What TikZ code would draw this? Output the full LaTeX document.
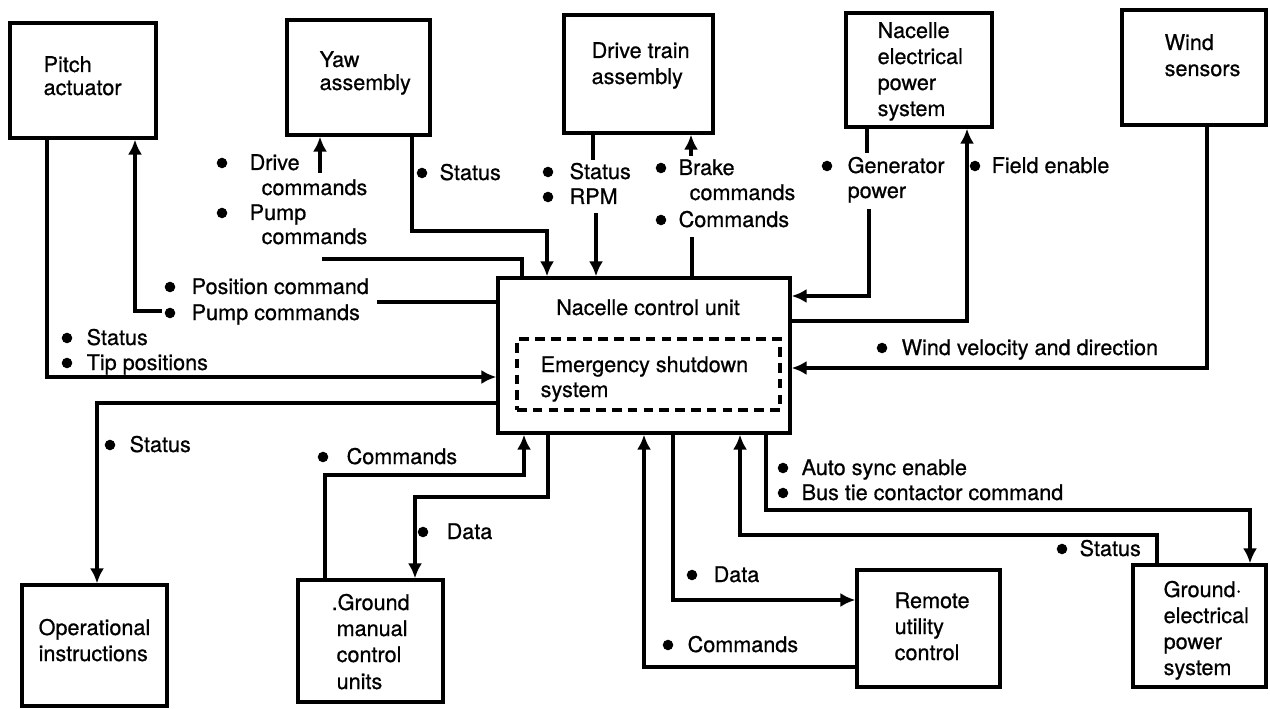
\documentclass[tikz,border=0pt]{standalone}
\usepackage{fontspec}
\setmainfont{TeX Gyre Heros}[FakeBold=0.7]
\usetikzlibrary{arrows.meta,fit}

% text line: baseline placed at the given point
\newcommand\tl[4]{\node[txt] (#1) at (#2,#3) {#4};}
% bulleted label: bullet x, text x, centre line y
\newcommand\bl[5]{\fill (#2,#4) circle (3pt);\node[txt] (#1) at (#3,{#4+7}) {#5};}

\begin{document}
\begin{tikzpicture}[x=0.02cm,y=-0.02cm,
  line width=1.9pt,
  box/.style={draw,line width=1.9pt,inner sep=0pt},
  txt/.style={anchor=base west,inner sep=0pt,font=\fontsize{12.3}{14}\selectfont},
  conn/.style={line width=1.9pt},
  arr/.style={line width=1.9pt,-{Latex[length=8.5pt,width=8pt]}}]

\path[use as bounding box] (0,0) rectangle (1270,709);

% ---- blocks ----
\node[box,fit={(10,23)(156,138)}]    (pitch)  {};
\node[box,fit={(287,20)(430,135)}]   (yaw)    {};
\node[box,fit={(564,15)(713,133)}]   (drive)  {};
\node[box,fit={(846,13)(992,127)}]   (nelec)  {};
\node[box,fit={(1122,10)(1266,125)}] (wind)   {};
\node[box,fit={(498,278)(790,433)}]  (ncu)    {};
\node[box,dashed,dash pattern=on 5.5pt off 3.5pt,fit={(517,339)(780,410)}] (esd) {};
\node[box,fit={(22,585)(167,706)}]   (oper)   {};
\node[box,fit={(298,580)(443,702)}]  (gmcu)   {};
\node[box,fit={(857,570)(1000,687)}] (remote) {};
\node[box,fit={(1133,565)(1266,687)}] (geps)  {};

% ---- block texts ----
\tl{pitchA}{42}{72}{Pitch}
\tl{pitchB}{42}{95}{actuator}
\tl{yawA}{318}{67}{Yaw}
\tl{yawB}{318}{90}{assembly}
\tl{drvA}{590}{58}{Drive train}
\tl{drvB}{590}{84}{assembly}
\tl{nelA}{876}{38}{Nacelle}
\tl{nelB}{876}{64}{electrical}
\tl{nelC}{876}{90}{power}
\tl{nelD}{876}{116}{system}
\tl{windA}{1163}{50}{Wind}
\tl{windB}{1163}{76}{sensors}
\node[txt,anchor=base] (ncuT) at (648,315) {Nacelle control unit};
\tl{esdA}{539}{372}{Emergency shutdown}
\tl{esdB}{539}{397}{system}
\tl{operA}{37}{635}{Operational}
\tl{operB}{37}{661}{instructions}
\tl{gmA}{330}{610}{.Ground}
\tl{gmB}{335}{636}{manual}
\tl{gmC}{335}{662}{control}
\tl{gmD}{335}{689}{units}
\tl{remA}{893}{608}{Remote}
\tl{remB}{893}{634}{utility}
\tl{remC}{893}{660}{control}
\tl{gepA}{1162}{597}{Ground·}
\tl{gepB}{1162}{623}{electrical}
\tl{gepC}{1162}{649}{power}
\tl{gepD}{1162}{675}{system}

% ---- signal labels ----
\bl{lDrive}{222}{248}{163}{Drive}
\tl{lDrive2}{260}{195}{commands}
\bl{lPump}{222}{248}{213}{Pump}
\tl{lPump2}{260}{244}{commands}
\bl{lYawSt}{422}{438}{173}{Status}
\bl{lDrSt}{548}{568}{172}{Status}
\bl{lRPM}{548}{568}{197}{RPM}
\bl{lBrake}{661}{677}{168}{Brake}
\tl{lBrake2}{688}{200}{commands}
\bl{lCmd}{661}{677}{220}{Commands}
\bl{lGen}{827}{846}{166}{Generator}
\tl{lGen2}{846}{198}{power}
\bl{lField}{975}{990}{166}{Field enable}
\bl{lPos}{170}{190}{287}{Position command}
\bl{lPumpC}{170}{190}{313}{Pump commands}
\bl{lPSt}{67}{85}{338}{Status}
\bl{lTip}{67}{85}{363}{Tip positions}
\bl{lWind}{882}{900}{348}{Wind velocity and direction}
\bl{lOpSt}{110}{128}{445}{Status}
\bl{lGmC}{323}{345}{457}{Commands}
\bl{lGmD}{423}{445}{532}{Data}
\bl{lAuto}{783}{800}{468}{Auto sync enable}
\bl{lBus}{783}{800}{493}{Bus tie contactor command}
\bl{lGeSt}{1062}{1078}{549}{Status}
\bl{lRemD}{692}{712}{575}{Data}
\bl{lRemC}{668}{686}{645}{Commands}

% ---- free line ends beside labels ----
\coordinate (pcA) at (377,302);
\coordinate (pcB) at (162,311);
\coordinate (ycA) at (320,173);
\coordinate (ycB) at (322,259);
\coordinate (dcA) at (593,160);
\coordinate (dcB) at (596,213);
\coordinate (dcC) at (691,156);
\coordinate (dcD) at (692,237);
\coordinate (ncA) at (867,153);
\coordinate (ncB) at (869,209);

% ---- connectors ----
% pitch actuator
\draw[arr]  (pitch.south -| 47,0) |- (ncu.west |- 0,377);
\draw[conn] (ncu.west |- pcA) -- (pcA);
\draw[arr]  (pcB) -| (pitch.south -| 135,0);
% yaw assembly
\draw[arr]  (ycA) -- (yaw.south -| ycA);
\draw[conn] (ycB) -| (ncu.north -| 522,0);
\draw[arr]  (yaw.south -| 412,0) -- (412,231) -| (ncu.north -| 547,0);
% drive train
\draw[conn] (drive.south -| dcA) -- (dcA);
\draw[arr]  (dcB) -- (ncu.north -| dcB);
\draw[arr]  (dcC) -- (drive.south -| dcC);
\draw[conn] (dcD) -- (ncu.north -| dcD);
% nacelle electrical power
\draw[conn] (nelec.south -| ncA) -- (ncA);
\draw[arr]  (ncB) |- (ncu.east |- 0,296);
\draw[arr]  (ncu.east |- 0,321) -| (nelec.south -| 967,0);
% wind sensors
\draw[arr]  (wind.south -| 1207,0) |- (ncu.east |- 0,368);
% operational instructions
\draw[arr]  (ncu.west |- 0,403) -| (oper.north -| 97,0);
% ground manual control units
\draw[arr]  (gmcu.north -| 325,0) -- (325,475) -| (ncu.south -| 524,0);
\draw[arr]  (ncu.south -| 548,0) -- (548,497) -| (gmcu.north -| 415,0);
% remote utility control
\draw[arr]  (remote.west |- 0,667) -| (ncu.south -| 644,0);
\draw[arr]  (ncu.south -| 673,0) |- (remote.west |- 0,600);
% ground electrical power system
\draw[arr]  (geps.north -| 1157,0) -- (1157,535) -| (ncu.south -| 740,0);
\draw[arr]  (ncu.south -| 766,0) -- (766,510) -| (geps.north -| 1250,0);

\end{tikzpicture}
\end{document}
